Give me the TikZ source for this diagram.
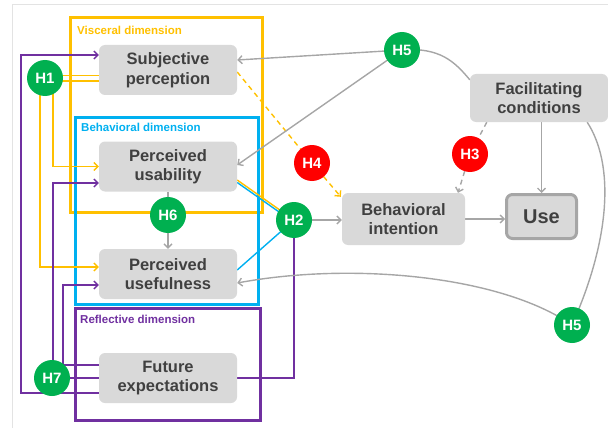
\documentclass[tikz,border=0pt]{standalone}
\usepackage{fontspec}
\setmainfont{Liberation Sans}
\usetikzlibrary{arrows.meta,calc}
\definecolor{vis}{HTML}{FFC000}
\definecolor{beh}{HTML}{00B0F0}
\definecolor{refl}{HTML}{7030A0}
\definecolor{hgreen}{HTML}{00B050}
\definecolor{hred}{HTML}{FF0000}
\definecolor{lgray}{HTML}{A6A6A6}
\definecolor{boxfill}{HTML}{D9D9D9}
\definecolor{txt}{HTML}{404040}
\definecolor{framec}{HTML}{E3E3E3}
\pgfdeclarelayer{bg}
\pgfsetlayers{bg,main}
\begin{document}
\begin{tikzpicture}[x=1pt,y=-1pt,
  box/.style={fill=boxfill, rounded corners=6pt, minimum width=138pt, minimum height=50pt,
    align=center, text=txt, inner sep=0pt, font=\fontsize{16.5}{19.5}\selectfont\bfseries},
  hc/.style={circle, inner sep=0pt, minimum size=36pt, text=white, font=\fontsize{15}{18}\selectfont\bfseries},
  hg/.style={hc, fill=hgreen},
  hr/.style={hc, fill=hred},
  dimlabel/.style={anchor=west, inner sep=0pt, font=\fontsize{11.5}{14}\selectfont\bfseries},
  conn/.style={line width=1.4pt},
  yl/.style={conn, draw=vis},
  cl/.style={conn, draw=beh},
  pl/.style={conn, draw=refl},
  gl/.style={conn, draw=lgray},
  arr/.style={-{Straight Barb[length=4pt,width=8pt]}},
  dsh/.style={dash pattern=on 5pt off 4pt}
]
\useasboundingbox (0,0) rectangle (608,428);

% nodes
\node[box] (sp) at (168,70) {Subjective\\perception};
\node[box] (pu) at (168,166.5) {Perceived\\usability};
\node[box] (pus) at (168,274) {Perceived\\usefulness};
\node[box] (fe) at (168,378) {Future\\expectations};
\node[box, minimum width=123pt, minimum height=52pt] (bi) at (403.5,219) {Behavioral\\intention};
\node[box, minimum width=138pt, minimum height=48pt] (fc) at (539,98) {Facilitating\\conditions};
\node[box, draw=lgray, line width=3pt, minimum width=70pt, minimum height=44pt,
  font=\fontsize{20}{24}\selectfont\bfseries] (use) at (541.5,216.5) {Use};

\node[hg] (h1) at (45,78) {H1};
\node[hg] (h5a) at (402,50) {H5};
\node[hr] (h4) at (312,163) {H4};
\node[hr] (h3) at (470,154) {H3};
\node[hg] (h6) at (168,215) {H6};
\node[hg] (h2) at (294,220) {H2};
\node[hg] (h5b) at (572,325) {H5};
\node[hg] (h7) at (52,378) {H7};

\begin{pgfonlayer}{bg}
% frame
\draw[framec, line width=1pt] (12.5,428) -- (12.5,5) -- (608,5);
% dimension boxes
\draw[vis, line width=3pt] (70,18) rectangle (262,212);
\node[dimlabel, text=vis] (lvis) at (77,30) {Visceral dimension};
\draw[beh, line width=3pt] (75,117) rectangle (258,304);
\node[dimlabel, text=beh] (lbeh) at (81,127) {Behavioral dimension};
\draw[refl, line width=3pt] (75,308) rectangle (260,420);
\node[dimlabel, text=refl] (lref) at (80,319) {Reflective dimension};

% H1
\draw[yl] (h1.center |- 0,75.5) -- (sp.west |- 0,75.5);
\draw[yl] (h1.center |- 0,81) -- (sp.west |- 0,81);
\draw[yl,arr] (h1.center -| 53,0) -- (53,166.5) -- (pu.west);
\draw[yl,arr] (h1.center -| 40,0) -- (40,267) -- (pus.west |- 0,267);

% H7
\draw[pl,arr] (fe.west |- 0,393) -- (21,393) -- (21,55) -- (sp.west |- 0,55);
\draw[pl,arr] (h7.center -| 53,0) -- (53,183) -- (pu.west |- 0,183);
\draw[pl,arr] (fe.west |- 0,365) -- (63,365) -- (63,285) -- (pus.west |- 0,285);
\draw[pl] (h7.center) -- (fe.west |- h7.center);
\draw[pl] (fe.east) -- (h2.center |- fe.east) -- (h2.center);

% H2
\draw[yl] (pu.east |- 0,180) -- (h2.center);
\draw[cl] (pu.east |- 0,182.5) -- ($(h2.center)+(0,2.5)$);
\draw[cl] (pus.east |- 0,270) -- (h2.center);
\draw[gl,arr] (h2.center) -- (bi.west |- h2.center);

% H6
\draw[gl] (pu.south) -- (h6.center);
\draw[gl,arr] (h6.center) -- (pus.north);

% H4
\draw[yl,dsh] (sp.east |- 0,72) -- (h4.center);
\draw[yl,dsh,arr] (h4.center) -- ($(bi.north west)+(-1,4)$);

% H3
\draw[gl,dsh] ($(fc.south west)+(17,0)$) -- (h3.center);
\draw[gl,dsh,arr] (h3.center) -- (bi.north -| 458,0);

% H5 top
\draw[gl,arr] (h5a.center) -- (sp.east |- 0,60);
\draw[gl,arr] (h5a.center) -- (pu.east |- 0,165);
\draw[gl] (h5a.center) .. controls (440,47) and (455,62) .. ($(fc.north west)+(0,6)$);

% FC, BI -> Use
\draw[gl,arr] (use.north |- fc.south) -- (use.north);
\draw[gl,arr] (bi.east) -- (bi.east -| use.west);

% H5 bottom
\draw[gl] ($(fc.south east)+(-21,0)$) .. controls (615,165) and (610,240) .. (h5b.center);
\draw[gl,arr] (h5b.center) .. controls (500,275) and (350,262) .. ($(pus.east)+(0,9)$);
\end{pgfonlayer}
\end{tikzpicture}
\end{document}
